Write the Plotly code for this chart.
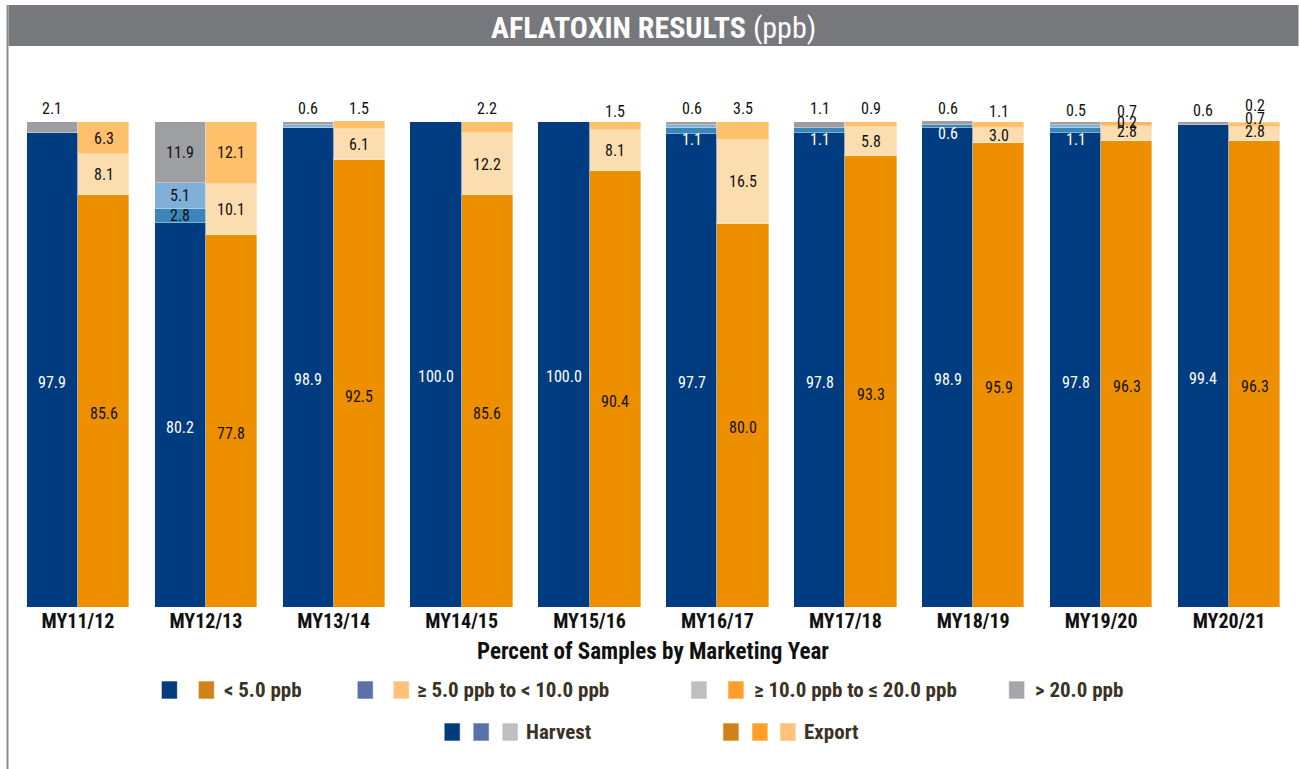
import plotly.graph_objects as go

# ---- data -------------------------------------------------------------
years = ["MY11/12", "MY12/13", "MY13/14", "MY14/15", "MY15/16",
         "MY16/17", "MY17/18", "MY18/19", "MY19/20", "MY20/21"]

harvest_lt5 = [97.9, 80.2, 98.9, 100.0, 100.0, 97.7, 97.8, 98.9, 97.8, 99.4]
harvest_5_10 = [0.0, 2.8, 0.0, 0.0, 0.0, 1.1, 1.1, 0.6, 1.1, 0.0]
harvest_10_20 = [0.0, 5.1, 0.5, 0.0, 0.0, 0.6, 0.0, 0.0, 0.6, 0.0]
harvest_gt20 = [2.1, 11.9, 0.6, 0.0, 0.0, 0.6, 1.1, 0.6, 0.5, 0.6]

export_lt5 = [85.6, 77.8, 92.5, 85.6, 90.4, 80.0, 93.3, 95.9, 96.3, 96.3]
export_5_10 = [8.1, 10.1, 6.1, 12.2, 8.1, 16.5, 5.8, 3.0, 2.8, 2.8]
export_10_20 = [6.3, 12.1, 1.5, 2.2, 1.5, 3.5, 0.9, 1.1, 0.2, 0.7]
export_gt20 = [0.0, 0.0, 0.0, 0.0, 0.0, 0.0, 0.0, 0.0, 0.7, 0.2]

# ---- layout geometry (pixels) ------------------------------------------
W, H = 1299, 769
L, R, T, B = 13.5, 5.5, 71, 162
PW, PH = W - L - R, H - T - B
Y_MIN, Y_MAX = 4.9, 110.0
BAR_W = 0.4

COND = "Liberation Sans Narrow, Roboto Condensed, Arial Narrow, Liberation Sans, sans-serif"


def px(x):
    return (x - L) / PW


def py(y):
    return (H - B - y) / PH


# series: (key, values, side, colour)
series = [
    ("h_lt5", harvest_lt5, -1, "#013C80"),
    ("h_5_10", harvest_5_10, -1, "#3A86B8"),
    ("h_10_20", harvest_10_20, -1, "#80B0D8"),
    ("h_gt20", harvest_gt20, -1, "#9E9FA3"),
    ("e_lt5", export_lt5, 1, "#EE8F00"),
    ("e_5_10", export_5_10, 1, "#FBDDB0"),
    ("e_10_20", export_10_20, 1, "#FFC06C"),
    ("e_gt20", export_gt20, 1, "#F7B766"),
]

# segments drawn without a value label
unlabeled = {("h_10_20", 2), ("h_10_20", 5), ("h_10_20", 8)}

# labels that sit above the bar or just under a thin segment
label_place = {
    ("h_gt20", 0): (102.7, "#111"),
    ("h_gt20", 2): (102.7, "#111"),
    ("e_10_20", 2): (102.7, "#111"),
    ("e_10_20", 3): (102.7, "#111"),
    ("e_10_20", 4): (102.1, "#111"),
    ("h_gt20", 5): (102.7, "#111"),
    ("h_5_10", 5): (96.5, "white"),
    ("e_10_20", 5): (102.7, "#111"),
    ("h_gt20", 6): (102.7, "#111"),
    ("h_5_10", 6): (96.5, "white"),
    ("e_10_20", 6): (102.7, "#111"),
    ("h_gt20", 7): (102.7, "#111"),
    ("h_5_10", 7): (97.8, "white"),
    ("e_10_20", 7): (102.1, "#111"),
    ("h_gt20", 8): (102.3, "#111"),
    ("h_5_10", 8): (96.5, "white"),
    ("e_gt20", 8): (102.1, "#111"),
    ("e_10_20", 8): (100.0, "#111"),
    ("e_5_10", 8): (98.2, "#111"),
    ("h_gt20", 9): (102.3, "#111"),
    ("e_gt20", 9): (103.3, "#111"),
    ("e_10_20", 9): (100.6, "#111"),
    ("e_5_10", 9): (98.2, "#111"),
}

fig = go.Figure()
annotations = []
base_h = [0.0] * len(years)
base_e = [0.0] * len(years)

for key, vals, side, colour in series:
    xs = [i + side * BAR_W / 2 for i in range(len(years))]
    fig.add_trace(go.Bar(
        x=xs, y=vals, width=BAR_W, marker_color=colour,
        marker_line=dict(color="rgba(255,255,255,0.35)", width=1),
        showlegend=False, hoverinfo="skip",
    ))
    bases = base_h if side < 0 else base_e
    for i, v in enumerate(vals):
        if v > 0 and (key, i) not in unlabeled:
            if (key, i) in label_place:
                ypos, col = label_place[(key, i)]
            else:
                ypos = bases[i] + v / 2
                col = "white" if key == "h_lt5" else "#111"
            annotations.append(dict(
                x=xs[i], y=ypos, xref="x", yref="y", text=f"{v:.1f}",
                xanchor="center", yanchor="middle", showarrow=False,
                font=dict(family=COND, size=16, color=col),
            ))
        bases[i] += v

# ---- title banner and frame ------------------------------------------------
shapes = [
    dict(type="rect", xref="paper", yref="paper", x0=px(8), x1=px(1299),
         y0=py(46), y1=py(5), fillcolor="#77787B", line=dict(width=0), layer="below"),
    dict(type="line", xref="paper", yref="paper", x0=px(7), x1=px(7),
         y0=py(769), y1=py(5), line=dict(color="#8C8C8C", width=2)),
]
annotations.append(dict(
    x=px(654), y=py(27), xref="paper", yref="paper",
    xanchor="center", yanchor="middle",
    text="<b>AFLATOXIN RESULTS</b> (ppb)", showarrow=False,
    font=dict(family=COND, size=30, color="white"),
))

# axis title
annotations.append(dict(
    x=px(653), y=py(651), xref="paper", yref="paper",
    xanchor="center", yanchor="middle",
    text="<b>Percent of Samples by Marketing Year</b>", showarrow=False,
    font=dict(family=COND, size=23, color="#111"),
))

# ---- legend built from swatches ------------------------------------------------
LEG_TXT = "#3B3226"
SW, SH = 16, 18
legend_rows = [
    (690, [
        (["#003C7E", "#D0821A"], [161, 198], 222, "< 5.0 ppb"),
        (["#5A72A8", "#FFC27A"], [357, 393], 415, "≥ 5.0 ppb to < 10.0 ppb"),
        (["#BEBFC1", "#FF9F28"], [691, 728], 752, "≥ 10.0 ppb to ≤ 20.0 ppb"),
        (["#A6A7AA"], [1009], 1033, "> 20.0 ppb"),
    ]),
    (732, [
        (["#003C7E", "#5A72A8", "#BEBFC1"], [444, 473, 502], 524, "Harvest"),
        (["#D0821A", "#FF9F28", "#FFC27A"], [723, 752, 780], 802, "Export"),
    ]),
]
for yc, items in legend_rows:
    for colours, x0s, tx, label in items:
        for c, x0 in zip(colours, x0s):
            shapes.append(dict(
                type="rect", xref="paper", yref="paper",
                x0=px(x0), x1=px(x0 + SW), y0=py(yc + SH / 2), y1=py(yc - SH / 2),
                fillcolor=c, line=dict(color="rgba(255,255,255,0.6)", width=1),
            ))
        annotations.append(dict(
            x=px(tx), y=py(yc), xref="paper", yref="paper",
            xanchor="left", yanchor="middle",
            text=f"<b>{label}</b>", showarrow=False,
            font=dict(family=COND, size=21, color=LEG_TXT),
        ))

fig.update_layout(
    width=W, height=H,
    margin=dict(l=L, r=R, t=T, b=B, pad=0),
    barmode="stack",
    bargap=0,
    plot_bgcolor="white", paper_bgcolor="white",
    shapes=shapes,
    annotations=annotations,
    xaxis=dict(
        range=[-0.5, len(years) - 0.5], tickvals=list(range(len(years))),
        ticktext=[f"<b>{y}</b>" for y in years],
        tickfont=dict(family=COND, size=20, color="#111"),
        showgrid=False, zeroline=False, showline=False, ticks="",
        fixedrange=True,
    ),
    yaxis=dict(range=[Y_MIN, Y_MAX], visible=False, showgrid=False, fixedrange=True),
)

fig.write_html("out.html")
